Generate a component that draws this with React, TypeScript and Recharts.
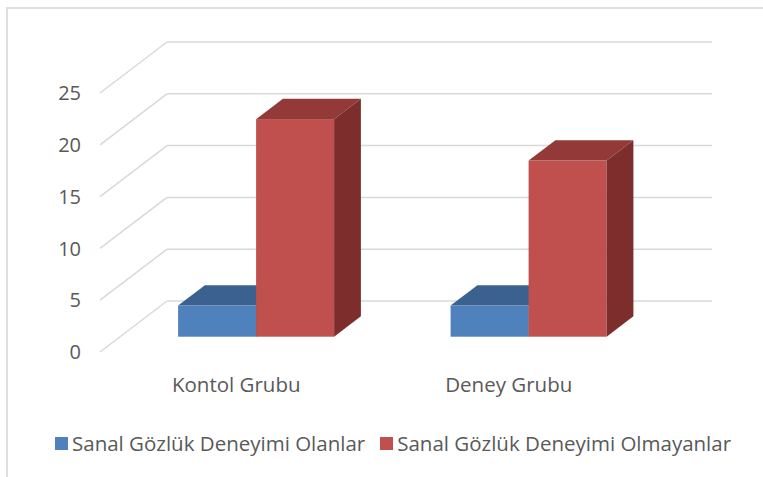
import React from 'react'
import { BarChart, Bar, XAxis, YAxis, CartesianGrid, Legend } from 'recharts'

const categories = ['Kontol Grubu', 'Deney Grubu']
const olanlar = [3, 3]
const olmayanlar = [21, 17]
const yTicks = [0, 5, 10, 15, 20, 25]
const seriesNames = ['Sanal Gözlük Deneyimi Olanlar', 'Sanal Gözlük Deneyimi Olmayanlar']

const data = categories.map((name, i) => ({
  name,
  olanlar: olanlar[i],
  olmayanlar: olmayanlar[i],
}))

// oblique depth of the 3d box (front plane -> back wall)
const WALL_DX = 67
const WALL_DY = 51
const FONT = '"Open Sans", sans-serif'
const TEXT = '#595959'

const blue = { front: '#4f81bd', top: '#3b6190', side: '#2f4f78' }
const red = { front: '#c0504d', top: '#933a38', side: '#7d2e2c' }

const make3DShape = (c: { front: string; top: string; side: string }) => (props: any) => {
  const { x, y, width, height } = props
  if (!height) return null
  const fx = x + WALL_DX * 0.3
  const fy = y - WALL_DY * 0.3
  const dx = WALL_DX * 0.4
  const dy = WALL_DY * 0.4
  return (
    <g>
      <rect x={fx} y={fy} width={width} height={height} fill={c.front} />
      <polygon
        points={`${fx},${fy} ${fx + width},${fy} ${fx + width + dx},${fy - dy} ${fx + dx},${fy - dy}`}
        fill={c.top}
      />
      <polygon
        points={`${fx + width},${fy} ${fx + width + dx},${fy - dy} ${fx + width + dx},${fy + height - dy} ${fx + width},${fy + height}`}
        fill={c.side}
      />
    </g>
  )
}

const renderGridLine = (p: any) => (
  <g key={`grid-${p.index}`}>
    <line x1={p.x1} y1={p.y1} x2={p.x1 + WALL_DX} y2={p.y1 - WALL_DY} stroke="#d9d9d9" strokeWidth={1.5} />
    <line
      x1={p.x1 + WALL_DX}
      y1={p.y1 - WALL_DY}
      x2={p.x2 + WALL_DX}
      y2={p.y1 - WALL_DY}
      stroke="#d9d9d9"
      strokeWidth={1.5}
    />
  </g>
)

const renderLegend = (props: any) => {
  const { payload } = props
  return (
    <div style={{ display: 'flex', alignItems: 'center', paddingLeft: 55, fontFamily: FONT, fontSize: 20.5, color: TEXT }}>
      {payload.map((entry: any, i: number) => (
        <div key={i} style={{ display: 'flex', alignItems: 'center', marginRight: 15 }}>
          <span style={{ width: 13, height: 13, background: entry.color, marginRight: 4, display: 'inline-block' }} />
          <span>{entry.value}</span>
        </div>
      ))}
    </div>
  )
}

export default function App() {
  return (
    <div style={{ position: 'absolute', left: 0, top: 0, width: 763, height: 477, background: '#fff', overflow: 'hidden' }}>
      <div
        style={{
          position: 'absolute',
          left: 6,
          top: 7,
          right: 0,
          bottom: 0,
          borderTop: '2px solid #dedede',
          borderLeft: '2px solid #dedede',
        }}
      />
      <div style={{ position: 'absolute', left: 0, top: 0 }}>
        <BarChart
          width={763}
          height={477}
          data={data}
          margin={{ top: 93, right: 118, bottom: 95, left: 40 }}
          barGap={0}
          barSize={78}
        >
          <CartesianGrid horizontal={renderGridLine} vertical={false} />
          <XAxis
            dataKey="name"
            axisLine={false}
            tickLine={false}
            tickMargin={19}
            tick={{ fill: TEXT, fontSize: 20.5, fontFamily: FONT }}
          />
          <YAxis
            domain={[0, 25]}
            ticks={yTicks}
            axisLine={false}
            tickLine={false}
            tickMargin={13}
            tick={{ fill: TEXT, fontSize: 20, fontFamily: FONT }}
          />
          <Legend
            layout="horizontal"
            verticalAlign="middle"
            align="center"
            wrapperStyle={{ top: 429, left: 0, width: 763 }}
            content={renderLegend}
          />
          <Bar dataKey="olanlar" name={seriesNames[0]} fill={blue.front} shape={make3DShape(blue)} isAnimationActive={false} />
          <Bar dataKey="olmayanlar" name={seriesNames[1]} fill={red.front} shape={make3DShape(red)} isAnimationActive={false} />
        </BarChart>
      </div>
    </div>
  )
}
